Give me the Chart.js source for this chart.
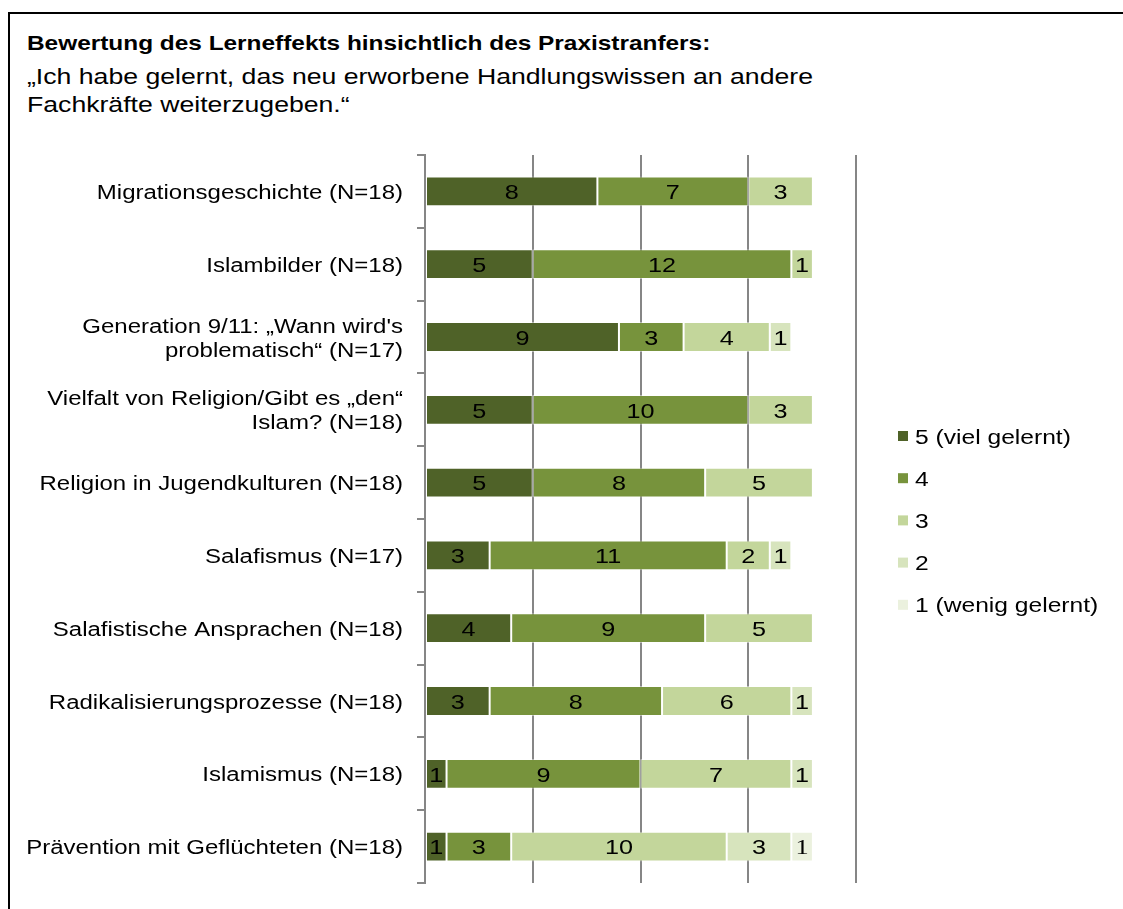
<!DOCTYPE html>
<html>
<head>
<meta charset="utf-8">
<script src="https://cdn.jsdelivr.net/npm/chart.js@4.4.1/dist/chart.umd.min.js"></script>
<style>
  html, body { margin: 0; padding: 0; background: #fff; }
  #wrap { position: relative; width: 1123px; height: 909px; overflow: hidden; font-family: "Liberation Sans", Arial, sans-serif; }
  #frame { position: absolute; left: 8px; top: 12px; width: 1200px; height: 1000px; border: 2px solid #000; box-sizing: border-box; }
  #title { position: absolute; left: 27px; top: 31px; font-size: 20.5px; font-weight: bold; color: #000; white-space: nowrap; transform: scaleX(1.19); transform-origin: 0 0; }
  #sub { position: absolute; left: 27px; top: 63px; font-size: 22.2px; line-height: 28px; color: #000; white-space: nowrap; transform: scaleX(1.2); transform-origin: 0 0; }
  canvas { position: absolute; left: 0; top: 0; }
</style>
</head>
<body>
<div id="wrap">
  <div id="frame"></div>
  <div id="title">Bewertung des Lerneffekts hinsichtlich des Praxistranfers:</div>
  <div id="sub">„Ich habe gelernt, das neu erworbene Handlungswissen an andere<br>Fachkräfte weiterzugeben.“</div>
  <canvas id="c" width="1123" height="909"></canvas>
</div>
<script>
const categories = [
  "Migrationsgeschichte (N=18)",
  "Islambilder (N=18)",
  ["Generation 9/11: „Wann wird's", "problematisch“ (N=17)"],
  ["Vielfalt von Religion/Gibt es „den“", "Islam? (N=18)"],
  "Religion in Jugendkulturen (N=18)",
  "Salafismus (N=17)",
  "Salafistische Ansprachen (N=18)",
  "Radikalisierungsprozesse (N=18)",
  "Islamismus (N=18)",
  "Prävention mit Geflüchteten (N=18)"
];
const seriesNames = ["5 (viel gelernt)", "4", "3", "2", "1 (wenig gelernt)"];
const s5 = [8, 5, 9, 5, 5, 3, 4, 3, 1, 1];
const s4 = [7, 12, 3, 10, 8, 11, 9, 8, 9, 3];
const s3 = [3, 1, 4, 3, 5, 2, 5, 6, 7, 10];
const s2 = [0, 0, 1, 0, 0, 1, 0, 1, 1, 3];
const s1 = [0, 0, 0, 0, 0, 0, 0, 0, 0, 1];
const xTicks = [0, 5, 10, 15, 20];
const colors = ["#4f6228", "#77933c", "#c3d69b", "#d7e4bd", "#ebf1de"];

Chart.defaults.font.family = '"Liberation Sans", Arial, sans-serif';
Chart.defaults.color = "#000";

const TEXT_SX = 1.2;
const TEXT_DY = 2;

const seriesValues = [s5, s4, s3, s2, s1];
const datasets = seriesValues.map((vals, i) => ({
  label: seriesNames[i],
  data: vals,
  backgroundColor: colors[i],
  borderColor: "rgba(255,255,255,0.45)",
  borderWidth: 1,
  borderSkipped: false,
  categoryPercentage: 1.0,
  barPercentage: 0.41
}));

// Horizontally stretched text, anchored at the text's x position
const stretchText = {
  id: "stretchText",
  afterInit(chart) {
    const ctx = chart.ctx;
    if (ctx.__stretched) return;
    const orig = ctx.fillText;
    ctx.fillText = function (t, x, y) {
      this.save();
      this.translate(x, y + TEXT_DY);
      this.scale(TEXT_SX, 1);
      orig.call(this, t, 0, 0);
      this.restore();
    };
    ctx.__stretched = true;
  }
};

const valueLabels = {
  id: "valueLabels",
  afterDatasetsDraw(chart) {
    const ctx = chart.ctx;
    ctx.save();
    ctx.textAlign = "center";
    ctx.textBaseline = "middle";
    ctx.fillStyle = "#000";
    chart.data.datasets.forEach((ds, di) => {
      const meta = chart.getDatasetMeta(di);
      ctx.font = di === 4 ? '22px "Liberation Serif", serif' : '21px "Liberation Sans", Arial, sans-serif';
      meta.data.forEach((el, i) => {
        const v = ds.data[i];
        if (!v) return;
        const cx = (el.x + el.base) / 2;
        ctx.fillText(String(v), cx, el.y);
      });
    });
    ctx.restore();
  }
};

const customLegend = {
  id: "customLegend",
  afterDraw(chart) {
    const ctx = chart.ctx;
    ctx.save();
    ctx.textBaseline = "middle";
    ctx.textAlign = "left";
    ctx.font = '20.5px "Liberation Sans", Arial, sans-serif';
    const x0 = 898, y0 = 436, gap = 42.2;
    chart.data.datasets.forEach((ds, i) => {
      const y = y0 + i * gap;
      ctx.fillStyle = ds.backgroundColor;
      ctx.fillRect(x0, y - 5, 10, 10);
      ctx.fillStyle = "#000";
      ctx.fillText(ds.label, x0 + 17, y);
    });
    ctx.restore();
  }
};

new Chart(document.getElementById("c"), {
  type: "bar",
  data: { labels: categories, datasets },
  options: {
    indexAxis: "y",
    responsive: false,
    animation: false,
    devicePixelRatio: 1,
    layout: { padding: { left: 0, top: 155, right: 267, bottom: 24 } },
    plugins: { legend: { display: false }, tooltip: { enabled: false }, title: { display: false } },
    scales: {
      x: {
        stacked: true,
        min: 0,
        max: 20,
        afterBuildTicks(scale) { scale.ticks = xTicks.map(v => ({ value: v })); },
        ticks: { display: false },
        grid: { color: "#868686", lineWidth: 2, drawTicks: false },
        border: { display: false },
        afterFit(scale) { scale.height = 0; }
      },
      y: {
        stacked: true,
        ticks: { font: { size: 20 }, color: "#000", padding: 14 },
        grid: { drawOnChartArea: false, drawTicks: true, tickLength: 8, color: "#868686", lineWidth: 2, offset: true },
        border: { display: true, color: "#868686", width: 2 },
        afterFit(scale) { scale.width = 425; }
      }
    }
  },
  plugins: [stretchText, valueLabels, customLegend]
});
</script>
</body>
</html>
